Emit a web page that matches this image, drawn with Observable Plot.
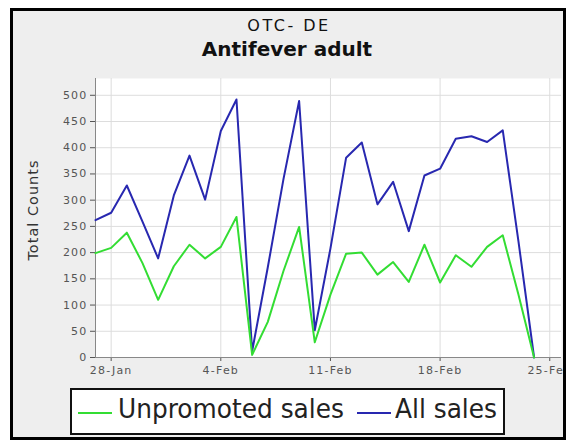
<!DOCTYPE html>
<html>
<head>
<meta charset="utf-8">
<script src="https://cdn.jsdelivr.net/npm/d3@7"></script>
<script src="https://cdn.jsdelivr.net/npm/@observablehq/plot@0.6"></script>
<style>
  html, body { margin: 0; padding: 0; background: #fff; }
  #wrap { position: relative; width: 567px; height: 440px; overflow: hidden; font-family: "DejaVu Sans", sans-serif; }
  #frame { position: absolute; left: 10px; top: 8px; width: 550px; height: 426px; border: 3px solid #000; background: #eeeeee; }
  #title { position: absolute; left: 0; width: 578px; top: 16px; text-align: center; font-size: 16px; letter-spacing: 2.5px; color: #111; }
  #subtitle { position: absolute; left: 0; width: 574px; top: 37px; text-align: center; font-size: 20px; font-weight: bold; color: #111; }
  #ylabel { position: absolute; left: 33px; top: 210px; transform: translate(-50%, -50%) rotate(-90deg); font-size: 14.5px; letter-spacing: 1px; color: #333; white-space: nowrap; }
  #chart { position: absolute; left: 0; top: 70px; width: 563px; height: 318px; overflow: hidden; }
  #chart svg { max-width: none !important; }
  #chart svg text { letter-spacing: 1.2px; }
  #legend { position: absolute; left: 70px; top: 388px; width: 431px; height: 43px; border: 2px solid #111; background: #fff; }
  .sw { position: absolute; height: 2px; top: 22px; }
  .lt { position: absolute; top: 4px; font-size: 27px; line-height: 30px; color: #222; white-space: nowrap; transform: scaleX(0.92); transform-origin: left center; }
</style>
</head>
<body>
<div id="wrap">
  <div id="frame"></div>
  <div id="title">OTC- DE</div>
  <div id="subtitle">Antifever adult</div>
  <div id="ylabel">Total Counts</div>
  <div id="chart"></div>
  <div id="legend"></div>
</div>
<script>
// ---- data ----
const dates = [
  "2008-01-27","2008-01-28","2008-01-29","2008-01-30","2008-01-31",
  "2008-02-01","2008-02-02","2008-02-03","2008-02-04","2008-02-05",
  "2008-02-06","2008-02-07","2008-02-08","2008-02-09","2008-02-10",
  "2008-02-11","2008-02-12","2008-02-13","2008-02-14","2008-02-15",
  "2008-02-16","2008-02-17","2008-02-18","2008-02-19","2008-02-20",
  "2008-02-21","2008-02-22","2008-02-23","2008-02-24"
];
const unpromotedSales = [199,209,238,180,110,174,215,189,211,268,5,68,165,249,29,120,198,200,158,182,144,215,143,195,173,211,233,120,0];
const allSales        = [262,276,328,259,189,309,385,301,432,492,12,172,340,489,52,208,381,410,292,335,241,347,360,417,422,411,433,222,0];
const seriesNames = ["Unpromoted sales", "All sales"];
const seriesColors = ["#33dd33", "#2828b0"];
const yTickValues = [0,50,100,150,200,250,300,350,400,450,500];
const xTickLabels = ["2008-01-28","2008-02-04","2008-02-11","2008-02-18","2008-02-25"];
const xDomain = ["2008-01-27T00:00Z", "2008-02-25T18:00Z"];
const yDomain = [0, 532];

// ---- build ----
const parse = s => new Date(s.length === 10 ? s + "T00:00Z" : s);
const rows = [];
dates.forEach((d, i) => rows.push({date: parse(d), value: allSales[i], series: seriesNames[1]}));
dates.forEach((d, i) => rows.push({date: parse(d), value: unpromotedSales[i], series: seriesNames[0]}));
const xTicks = xTickLabels.map(parse);

const chart = Plot.plot({
  width: 567,
  height: 318,
  marginLeft: 95,
  marginRight: 6,
  marginTop: 8,
  marginBottom: 31,
  style: {background: "transparent", fontFamily: "DejaVu Sans, sans-serif"},
  x: {type: "utc", domain: xDomain.map(parse)},
  y: {domain: yDomain},
  color: {domain: seriesNames, range: seriesColors},
  marks: [
    Plot.frame({fill: "white", stroke: null}),
    Plot.gridY(yTickValues, {stroke: "#dddddd", strokeOpacity: 1}),
    Plot.gridX(xTicks, {stroke: "#dddddd", strokeOpacity: 1}),
    Plot.axisY(yTickValues, {tickSize: 5, tickPadding: 3, fontSize: 11, color: "#555", label: null}),
    Plot.axisX(xTicks, {tickSize: 4, tickPadding: 5, fontSize: 11, color: "#555", label: null, tickFormat: d3.utcFormat("%-d-%b")}),
    Plot.ruleX([parse(xDomain[0])], {stroke: "#888"}),
    Plot.ruleY([0], {stroke: "#888"}),
    Plot.lineY(rows, {x: "date", y: "value", z: "series", stroke: "series", strokeWidth: 2})
  ]
});
document.getElementById("chart").appendChild(chart);

// ---- legend ----
const legend = document.getElementById("legend");
const items = [
  {name: seriesNames[0], color: seriesColors[0], sw: 6, tx: 46},
  {name: seriesNames[1], color: seriesColors[1], sw: 285, tx: 323}
];
items.forEach(it => {
  const s = document.createElement("div");
  s.className = "sw";
  s.style.left = it.sw + "px";
  s.style.width = "34px";
  s.style.background = it.color;
  legend.appendChild(s);
  const t = document.createElement("div");
  t.className = "lt";
  t.style.left = it.tx + "px";
  t.textContent = it.name;
  legend.appendChild(t);
});
</script>
</body>
</html>
